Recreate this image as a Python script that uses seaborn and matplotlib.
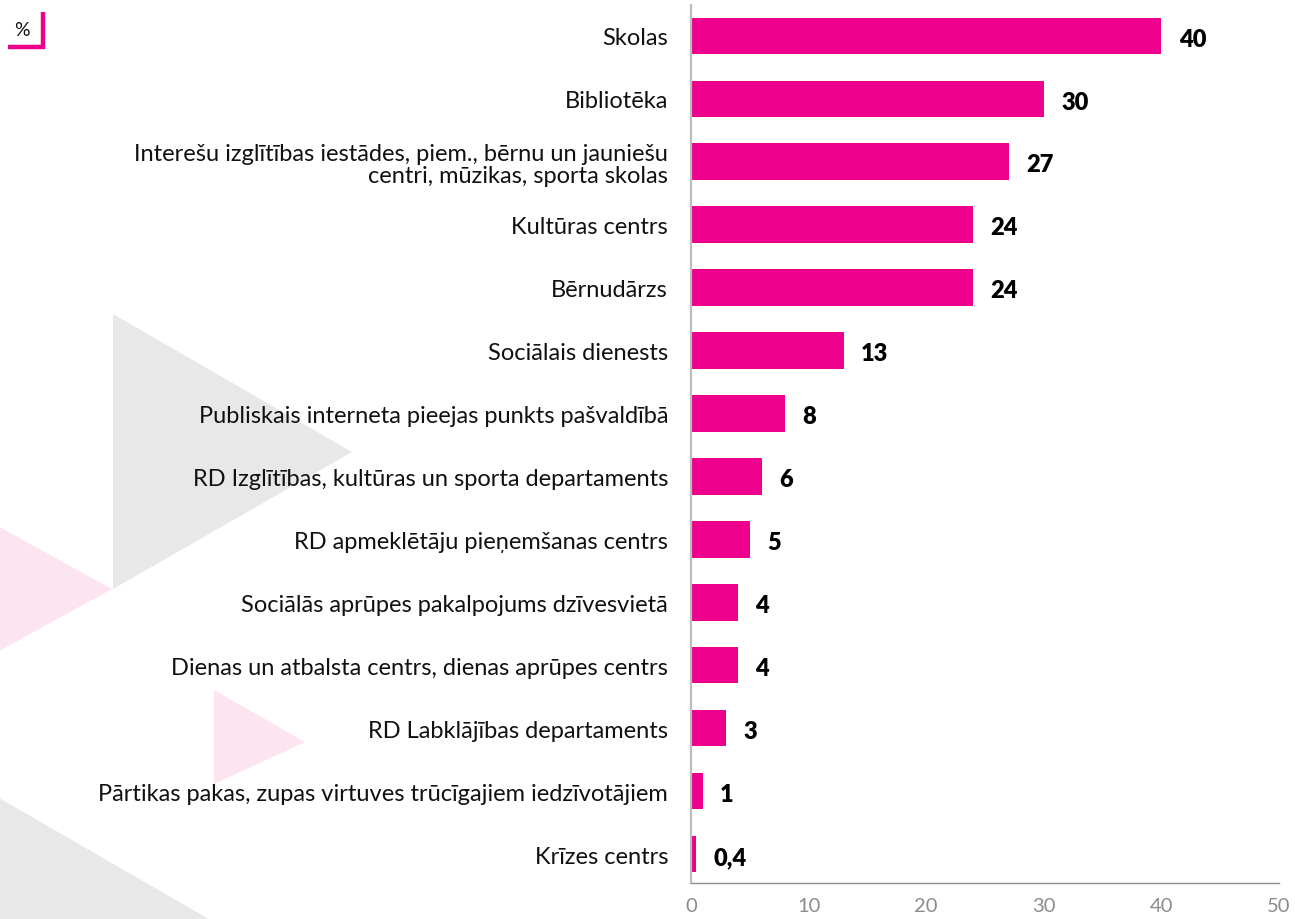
import matplotlib
matplotlib.use("Agg")
import matplotlib.pyplot as plt
from matplotlib.patches import Polygon
import seaborn as sns
import pandas as pd

# Survey shares (%) by type of institution
categories = [
    "Skolas",
    "Bibliotēka",
    "Interešu izglītības iestādes, piem., bērnu un jauniešu\ncentri, mūzikas, sporta skolas",
    "Kultūras centrs",
    "Bērnudārzs",
    "Sociālais dienests",
    "Publiskais interneta pieejas punkts pašvaldībā",
    "RD Izglītības, kultūras un sporta departaments",
    "RD apmeklētāju pieņemšanas centrs",
    "Sociālās aprūpes pakalpojums dzīvesvietā",
    "Dienas un atbalsta centrs, dienas aprūpes centrs",
    "RD Labklājības departaments",
    "Pārtikas pakas, zupas virtuves trūcīgajiem iedzīvotājiem",
    "Krīzes centrs",
]
values = [40, 30, 27, 24, 24, 13, 8, 6, 5, 4, 4, 3, 1, 0.4]
x_ticks = [0, 10, 20, 30, 40, 50]

MAGENTA = "#ec008c"
FONT = "Lato"

df = pd.DataFrame({"category": categories, "value": values})

sns.set_theme(style="white")
plt.rcParams["font.family"] = [FONT, "DejaVu Sans"]

W, H = 1295, 920
fig = plt.figure(figsize=(W / 100, H / 100), dpi=100)

# Decorative background triangles (pixel coordinates)
bg = fig.add_axes([0, 0, 1, 1], zorder=-1)
bg.set_xlim(0, W)
bg.set_ylim(H, 0)
bg.axis("off")
GRAY_T = "#e8e8e8"
PINK_T = "#fce4f0"
bg.add_patch(Polygon([(-110, 468), (112, 590), (-110, 712)], closed=True, color=PINK_T, lw=0))
bg.add_patch(Polygon([(113, 315), (352, 453), (113, 590)], closed=True, color=GRAY_T, lw=0))
bg.add_patch(Polygon([(214, 691), (305, 743), (214, 785)], closed=True, color=PINK_T, lw=0))
bg.add_patch(Polygon([(-20, 788), (420, 1042), (-20, 1296)], closed=True, color=GRAY_T, lw=0))

# Unit marker in the top-left corner
bg.text(22, 31, "%", fontsize=14, color="#111111", ha="center", va="center", family=[FONT, "DejaVu Sans"])
bg.plot([43, 43, 8], [13, 48, 48], color=MAGENTA, lw=3.2, solid_capstyle="butt", solid_joinstyle="miter")

ax = fig.add_axes([691 / W, 1 - 884 / H, (1279 - 691) / W, (884 - 6) / H])
ax.set_facecolor("none")

sns.barplot(data=df, x="value", y="category", orient="h", color=MAGENTA,
            saturation=1, width=0.58, ax=ax, linewidth=0)

ax.set_xlim(0, 50)
ax.set_ylim(len(categories) - 1 + 0.46, -0.49)
ax.set_xticks(x_ticks)
ax.set_xticklabels([str(t) for t in x_ticks])
ax.set_xlabel("")
ax.set_ylabel("")

for lbl in ax.get_yticklabels():
    lbl.set_fontsize(17)
    lbl.set_color("#111111")
    lbl.set_family([FONT, "DejaVu Sans"])
    lbl.set_multialignment("right")
    lbl.set_linespacing(1.05)

ax.tick_params(axis="y", length=0, pad=16.5)
ax.tick_params(axis="x", length=5, width=1, color="#8c8c8c", pad=5,
               labelsize=14.5, labelcolor="#8c8c8c", direction="out")

for side in ["top", "right"]:
    ax.spines[side].set_visible(False)
ax.spines["left"].set_color("#bdbdbd")
ax.spines["left"].set_linewidth(1.6)
ax.spines["bottom"].set_color("#8c8c8c")
ax.spines["bottom"].set_linewidth(1.0)


def fmt(v):
    if float(v).is_integer():
        return str(int(v))
    return f"{v}".replace(".", ",")


for i, v in enumerate(values):
    ax.annotate(fmt(v), xy=(v, i), xytext=(12.5, -2), textcoords="offset points",
                ha="left", va="center", fontsize=17, fontweight="heavy",
                color="#000000", family=[FONT, "DejaVu Sans"])

fig.savefig("out.png", dpi=100)
